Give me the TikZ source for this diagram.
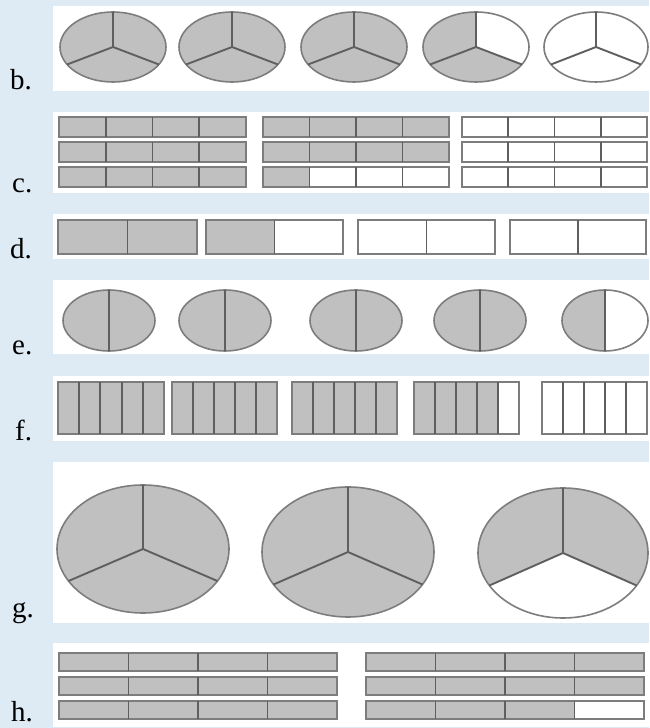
\documentclass[tikz,border=0pt]{standalone}
\usepackage{fontspec}
\setmainfont{Liberation Serif}
\definecolor{pagebg}{RGB}{222,235,245}
\definecolor{shade}{RGB}{192,192,192}
\definecolor{edge}{RGB}{125,125,125}
\definecolor{divider}{RGB}{95,95,95}
\begin{document}
\begin{tikzpicture}[x=1pt,y=1pt,
  panel/.style={fill=white},
  rim/.style={draw=edge,line width=1.6pt},
  cut/.style={draw=divider,line width=1.9pt},
  tag/.style={anchor=base west,inner sep=0pt,font=\fontsize{29}{34}\selectfont}]
% background and white strips
\fill[pagebg] (0,0) rectangle (649,728);
\useasboundingbox (0,0) rectangle (649,728);
\foreach \ya/\yb in {637/722,535/616,469/514,374/448,287/352,105/266,1/85}
  \fill[panel] (53,\ya) rectangle (649,\yb);
% labels
\node[tag] (lb) at (10,638) {b.};
\node[tag] (lc) at (12,535) {c.};
\node[tag] (ld) at (10,469) {d.};
\node[tag] (le) at (12,373) {e.};
\node[tag] (lf) at (15,287) {f.};
\node[tag] (lg) at (12,110) {g.};
\node[tag] (lh) at (11,6) {h.};
% pies in thirds (rows b and g)
\foreach \cx/\cy/\rx/\ry/\ca/\cb/\cc in {113/681/53/35/shade/shade/shade,
    232/681/53/35/shade/shade/shade, 354/681/53/35/shade/shade/shade,
    476/681/53/35/shade/shade/white, 596/681/52/35/white/white/white,
    143/179/86/64/shade/shade/shade, 348/176/86/65/shade/shade/shade,
    563/175/85/65/shade/white/shade}{
  \fill[fill=\ca] (\cx,\cy) -- ({\cx},{\cy+\ry})
    arc[start angle=90,end angle=210,x radius=\rx,y radius=\ry] -- cycle;
  \fill[fill=\cb] (\cx,\cy) -- ({\cx-0.866*\rx},{\cy-0.5*\ry})
    arc[start angle=210,end angle=330,x radius=\rx,y radius=\ry] -- cycle;
  \fill[fill=\cc] (\cx,\cy) -- ({\cx+0.866*\rx},{\cy-0.5*\ry})
    arc[start angle=330,end angle=450,x radius=\rx,y radius=\ry] -- cycle;
  \draw[rim] (\cx,\cy) ellipse[x radius=\rx,y radius=\ry];
  \draw[cut] ({\cx},{\cy+\ry}) -- (\cx,\cy) -- ({\cx-0.866*\rx},{\cy-0.5*\ry})
    (\cx,\cy) -- ({\cx+0.866*\rx},{\cy-0.5*\ry});
}
% halves (row e)
\foreach \cx/\rx/\cl/\cr in {109/46/shade/shade,225/46/shade/shade,356/46/shade/shade,
    480/46/shade/shade,605/43/shade/white}{
  \fill[fill=\cl] (\cx,438) arc[start angle=90,end angle=270,x radius=\rx,y radius=30.5] -- cycle;
  \fill[fill=\cr] (\cx,377) arc[start angle=270,end angle=450,x radius=\rx,y radius=30.5] -- cycle;
  \draw[rim] (\cx,407.5) ellipse[x radius=\rx,y radius=30.5];
  \draw[cut] (\cx,438) -- (\cx,377);
}
% bars: left/right/bottom/top/cells/shaded
\foreach \xa/\xb/\ya/\yb/\m/\n in {%
    59/246/591/611/4/4, 59/246/566/586/4/4, 59/246/541/561/4/4,
    263/449/591/611/4/4, 263/449/566/586/4/4, 263/449/541/561/4/1,
    462/647/591/611/4/0, 462/647/566/586/4/0, 462/647/541/561/4/0,
    58/197/474/508/2/2, 206/343/474/508/2/1, 358/495/474/508/2/0, 510/646/474/508/2/0,
    58/164/294/346/5/5, 172/277/294/346/5/5, 292/397/294/346/5/5,
    414/519/294/346/5/4, 542/647/294/346/5/0,
    59/337/57/75/4/4, 59/337/33/51/4/4, 59/337/9/27/4/4,
    366/644/57/75/4/4, 366/644/33/51/4/4, 366/644/9/27/4/3}{
  \pgfmathsetmacro\w{(\xb-\xa)/\m}
  \foreach \k in {1,...,\m}{
    \ifnum\k>\n \def\col{white}\else\def\col{shade}\fi
    \fill[fill=\col] ({\xa+(\k-1)*\w},\ya) rectangle ({\xa+\k*\w},\yb);
  }
  \draw[rim] (\xa,\ya) rectangle (\xb,\yb);
  \foreach \k in {2,...,\m}
    \draw[cut] ({\xa+(\k-1)*\w},\ya) -- ({\xa+(\k-1)*\w},\yb);
}
\end{tikzpicture}
\end{document}
